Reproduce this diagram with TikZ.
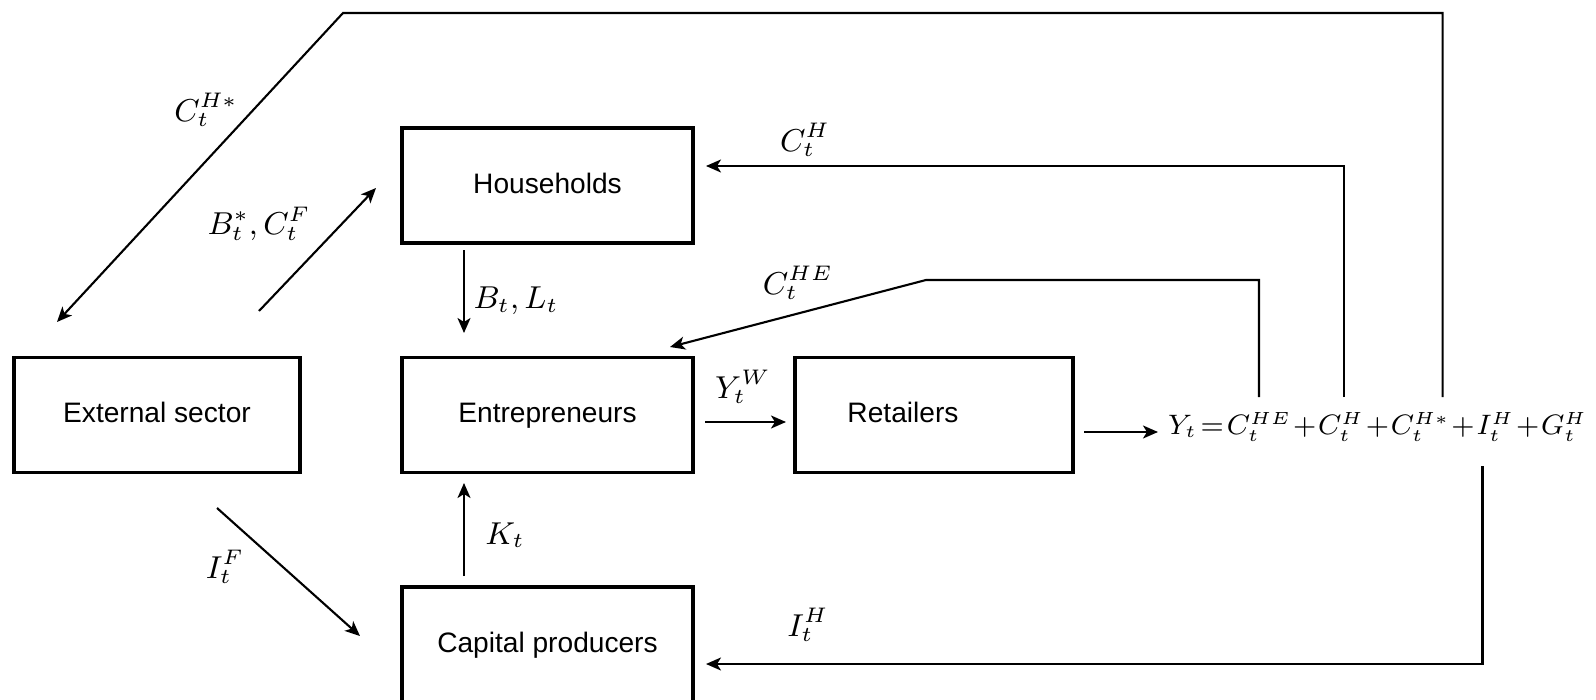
\documentclass[tikz,border=0pt]{standalone}
\usepackage{fontspec}
\setmainfont{Liberation Sans}
\usepackage{amsmath}
\usepackage{amssymb}
\usetikzlibrary{arrows.meta}

\tikzset{
  box/.style={draw, line width=1.1pt, minimum width=2.91cm, minimum height=1.15cm,
    inner sep=0pt, text height=6pt, text depth=1.7pt, font=\fontsize{8}{10}\selectfont},
  lab/.style={inner sep=0pt, font=\fontsize{9}{11}\selectfont},
  term/.style={anchor=base west, inner xsep=0pt, outer sep=0pt, inner ysep=0.15cm, font=\fontsize{7.8}{10}\selectfont},
  flow/.style={line width=0.6pt, -{Stealth[length=0.15cm, width=0.13cm, inset=0.04cm]}}
}

\begin{document}
\begin{tikzpicture}[x=0.01cm, y=-0.01cm]
	\useasboundingbox (0,0) rectangle (1596,700);

    % sectors
    \node[box, minimum width=2.86cm] (ext) at (157,415) {External sector};
    \node[box] (hh) at (547.5,185.5) {Households};
    \node[box] (ent) at (547.5,415) {Entrepreneurs};
    \node[box, minimum width=2.78cm] (ret) at (934,415) {Retailers\hspace*{0.62cm}};
    \node[box] (cap) at (547.5,644.5) {Capital producers};

    % output identity
    \node[term] (eqY) at (1168,434) {$Y_t$};
    \node[term] (eqEq) at ([xshift=0.035cm]eqY.base east) {$=$};
    \node[term] (eqHE) at ([xshift=0.03cm]eqEq.base east) {$C_t^{HE}$};
    \node[term] (eqP1) at ([xshift=0.018cm]eqHE.base east) {$+$};
    \node[term] (eqH) at ([xshift=0.018cm]eqP1.base east) {$C_t^{H}$};
    \node[term] (eqP2) at ([xshift=0.018cm]eqH.base east) {$+$};
    \node[term] (eqHs) at ([xshift=0.018cm]eqP2.base east) {$C_t^{H*}$};
    \node[term] (eqP3) at ([xshift=0.018cm]eqHs.base east) {$+$};
    \node[term] (eqI) at ([xshift=0.018cm]eqP3.base east) {$I_t^{H}$};
    \node[term] (eqP4) at ([xshift=0.018cm]eqI.base east) {$+$};
    \node[term] (eqG) at ([xshift=0.018cm]eqP4.base east) {$G_t^{H}$};

    % free ends
    \coordinate (topL) at (343,13);
    \coordinate (extIn) at (57,322);
    \coordinate (extOut) at (259,311);
    \coordinate (hhIn) at (376,188);
    \coordinate (hhOut) at (464,250);
    \coordinate (entIn) at (464,333);
    \coordinate (hhRight) at (706,166);
    \coordinate (heBend) at (926,280);
    \coordinate (entTop) at (670,347);
    \coordinate (entOut) at (705,422);
    \coordinate (retIn) at (786,422);
    \coordinate (retOut) at (1084,432);
    \coordinate (eqIn) at (1158,432);
    \coordinate (capOut) at (464,576);
    \coordinate (entBot) at (464,483);
    \coordinate (extLow) at (217,508);
    \coordinate (capIn) at (360,636);
    \coordinate (capRight) at (706,664);

    % flows
    \draw[flow] ([xshift=-0.07cm]eqHs.north east) |- (topL) -- (extIn);
    \draw[flow] (extOut) -- (hhIn);
    \draw[flow] (hhOut) -- (entIn);
    \draw[flow] ([xshift=0.03cm]eqH.north) |- (hhRight);
    \draw[flow] (eqHE.north) |- (heBend) -- (entTop);
    \draw[flow] (entOut) -- (retIn);
    \draw[flow] (retOut) -- (eqIn);
    \draw[flow] (capOut) -- (entBot);
    \draw[flow] (extLow) -- (capIn);
    \draw[flow, shorten <=0.1cm] ([xshift=0.06cm]eqI.south west) |- (capRight);

    % flow labels
    \node[lab] (lCHs) at (206,110) {$C_t^{H*}$};
    \node[lab] (lBC) at (259,224) {$B_t^*, C_t^F$};
    \node[lab] (lBL) at (516,301) {$B_t, L_t$};
    \node[lab] (lCH) at (805,140) {$C_t^H$};
    \node[lab] (lCHE) at (798,283) {$C_t^{HE}$};
    \node[lab] (lYW) at (743,387) {$Y_t^W$};
    \node[lab] (lK) at (505,535) {$K_t$};
    \node[lab] (lIF) at (225,567) {$I_t^F$};
    \node[lab] (lIH) at (808,625) {$I_t^H$};
\end{tikzpicture}
\end{document}
